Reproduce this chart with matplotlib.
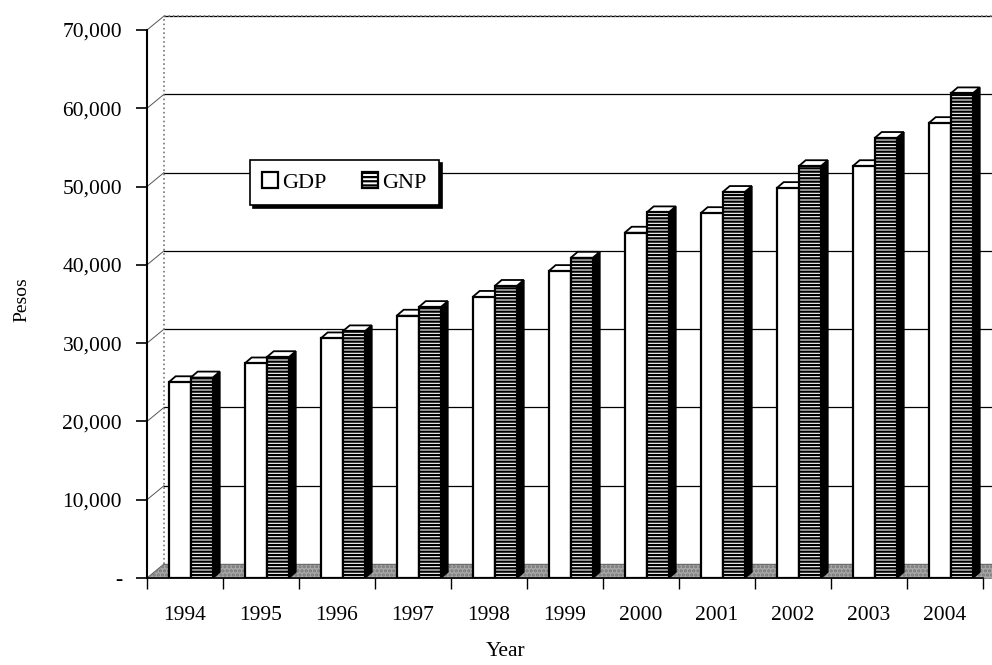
import numpy as np
import matplotlib
matplotlib.use("Agg")
import matplotlib.pyplot as plt
from matplotlib.patches import Polygon, Patch

years = ["1994", "1995", "1996", "1997", "1998", "1999", "2000", "2001", "2002", "2003", "2004"]
gdp = [25000, 27400, 30600, 33500, 35900, 39200, 44100, 46600, 49800, 52600, 58100]
gnp = [25600, 28200, 31500, 34600, 37300, 40900, 46700, 49300, 52600, 56200, 61900]
y_ticks = [0, 10000, 20000, 30000, 40000, 50000, 60000, 70000]
y_labels = ["-", "10,000", "20,000", "30,000", "40,000", "50,000", "60,000", "70,000"]

plt.rcParams['font.family'] = ['Liberation Serif', 'DejaVu Serif']
plt.rcParams['hatch.linewidth'] = 1.6

W, H = 992, 665
fig = plt.figure(figsize=(W / 100, H / 100), dpi=100)
ax_l, ax_r, ax_t, ax_b = 147, 983, 30, 578
ax = fig.add_axes([ax_l / W, 1 - ax_b / H, (ax_r - ax_l) / W, (ax_b - ax_t) / H])

n = len(years)
ax.set_xlim(-0.5, n - 0.5)
ax.set_ylim(0, 70000)

# pixel -> data conversion for the fake 3d depth
px_x = (ax_r - ax_l) / n
px_y = (ax_b - ax_t) / 70000
wall_dx, wall_dy = 17 / px_x, 14 / px_y
bar_dx, bar_dy = 7 / px_x, 6 / px_y

# back wall gridlines + left wall diagonals
for v in y_ticks:
    ax.plot([-0.5 + wall_dx, n - 0.5 + wall_dx + 1], [v + wall_dy] * 2, color="black", lw=0.9,
            clip_on=False, zorder=1)
    ax.plot([-0.5, -0.5 + wall_dx], [v, v + wall_dy], color="#555555", lw=0.7, clip_on=False, zorder=1)
ax.plot([-0.5 + wall_dx] * 2, [wall_dy, 70000 + wall_dy], color="#777777", lw=1.2, ls=":", clip_on=False, zorder=1)
ax.plot([-0.5 + wall_dx, n + 1], [70000 + wall_dy] * 2, color="#777777", lw=1.2, ls=":", clip_on=False, zorder=1)

# floor
floor = Polygon([(-0.5, 0), (n + 1, 0), (n + 1, wall_dy), (-0.5 + wall_dx, wall_dy)],
                closed=True, facecolor="#a8a8a8", edgecolor="#777777", hatch="....", lw=0.5,
                clip_on=False, zorder=1.5)
ax.add_patch(floor)

w = 0.29
x = np.arange(n)
x_gdp = x - 0.07
x_gnp = x + 0.22


def draw_3d(xc, vals, side_color, front_hatch, z):
    for xi, v in zip(xc, vals):
        x0, x1 = xi - w / 2, xi + w / 2
        side = Polygon([(x1, 0), (x1, v), (x1 + bar_dx, v + bar_dy), (x1 + bar_dx, bar_dy)],
                       closed=True, facecolor=side_color, edgecolor="black", lw=1.3,
                       hatch=":" if side_color == "black" else None, zorder=z)
        top = Polygon([(x0, v), (x0 + bar_dx, v + bar_dy), (x1 + bar_dx, v + bar_dy), (x1, v)],
                      closed=True, facecolor="white", edgecolor="black", lw=1.3, zorder=z)
        ax.add_patch(side)
        ax.add_patch(top)
    ax.bar(xc, vals, width=w, color="white", edgecolor="black", lw=1.6, hatch=front_hatch, zorder=z + 0.1)


draw_3d(x_gdp, gdp, "white", None, 2)
draw_3d(x_gnp, gnp, "black", "-----", 3)

# axes styling
for s in ["top", "right"]:
    ax.spines[s].set_visible(False)
ax.spines["left"].set_linewidth(1.5)
ax.spines["bottom"].set_linewidth(1.2)
ax.spines["left"].set_zorder(5)
ax.spines["bottom"].set_zorder(5)

ax.set_yticks(y_ticks)
ax.set_yticklabels(y_labels, fontsize=15.5)
ax.tick_params(axis="y", length=8, width=1.2, pad=10)

ax.set_xticks(x)
ax.set_xticklabels(years, fontsize=15.5)
ax.set_xticks(np.arange(-0.5, n), minor=True)
ax.tick_params(axis="x", which="major", length=0, pad=20)
ax.tick_params(axis="x", which="minor", length=8, width=1.0)

fig.text(22 / W, 1 - 300 / H, "Pesos", rotation=90, ha="center", va="center", fontsize=14)
fig.text(506 / W, 1 - 652 / H, "Year", ha="center", va="center", fontsize=15.5)

handles = [Patch(facecolor="white", edgecolor="black", lw=1.6, label="GDP"),
           Patch(facecolor="white", edgecolor="black", lw=1.6, hatch="----", label="GNP")]
leg = fig.legend(handles=handles, loc="upper left", bbox_to_anchor=(250 / W, 1 - 160 / H), ncol=2,
                 fontsize=16, frameon=True, fancybox=False, shadow={"color": "black", "alpha": 1},
                 handlelength=0.7, handleheight=0.7, handletextpad=0.2, columnspacing=1.6,
                 borderpad=0.55, borderaxespad=0, framealpha=1)
leg.get_frame().set_edgecolor("black")
leg.get_frame().set_linewidth(1.2)

fig.savefig("out.png", dpi=100)
